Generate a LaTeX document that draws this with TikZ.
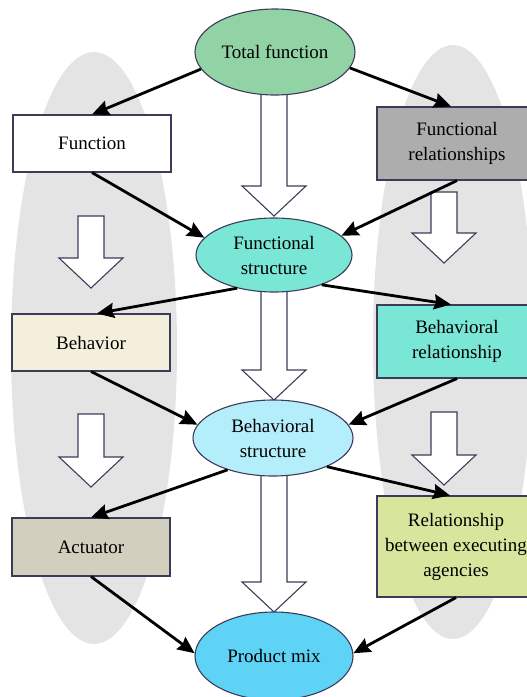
\documentclass[tikz,border=0pt]{standalone}
\usepackage{fontspec}
\setmainfont{Liberation Serif}
\usetikzlibrary{arrows.meta,shapes.geometric}

\definecolor{bggray}{RGB}{228,228,228}
\definecolor{edge}{RGB}{60,60,90}
\definecolor{totalgreen}{RGB}{146,211,165}
\definecolor{turq}{RGB}{121,230,214}
\definecolor{lightcyan}{RGB}{181,238,251}
\definecolor{skyblue}{RGB}{95,211,245}
\definecolor{midgray}{RGB}{173,173,173}
\definecolor{cream}{RGB}{244,239,221}
\definecolor{khaki}{RGB}{211,207,190}
\definecolor{lime}{RGB}{215,230,156}

% hollow block arrow: x, top y, tip y
\newcommand{\hollowarrow}[3]{%
  \draw[blockarrow] (#1-13,#2) -- (#1+13,#2) -- (#1+13,#3-30) -- (#1+32,#3-30)
    -- (#1,#3) -- (#1-32,#3-30) -- (#1-13,#3-30) -- cycle;}

\begin{document}
\begin{tikzpicture}[
                x=1pt, y=-1pt,
                font=\rmfamily\fontsize{19}{25}\selectfont,
                box/.style={draw=edge, line width=1.1pt, align=center, inner sep=2pt},
                oval/.style={ellipse, draw=edge, line width=1.1pt, align=center, inner sep=0pt},
                blockarrow/.style={draw=edge, fill=white, line width=1.1pt, line join=miter},
                conn/.style={-{Stealth[length=17pt, width=15pt, inset=2pt]}, line width=2.8pt, black}
            ]
            \clip (0,0) rectangle (527,697);

            % Background lanes
            \fill[bggray] (94,348) ellipse [x radius=83, y radius=296];
            \fill[bggray] (453,342) ellipse [x radius=80, y radius=297];

            % Hollow arrows, middle column
            \hollowarrow{274}{92}{216}
            \hollowarrow{274}{288}{400}
            \hollowarrow{274}{472}{612}

            % Hollow arrows, side columns
            \foreach \x/\a/\b in {91/216/288, 91/414/487, 444/192/263, 444/412/485}
                { \hollowarrow{\x}{\a}{\b} }

            % Middle column
            \node[oval, fill=totalgreen, minimum width=160pt, minimum height=86pt] (total) at (275,52) {Total function};
            \node[oval, fill=turq, minimum width=156pt, minimum height=74pt] (fstruct) at (274,255) {Functional\\structure};
            \node[oval, fill=lightcyan, minimum width=160pt, minimum height=76pt] (bstruct) at (273,438) {Behavioral\\structure};
            \node[oval, fill=skyblue, minimum width=158pt, minimum height=88pt] (prod) at (274,656) {Product mix};

            % Left column
            \node[box, fill=white, minimum width=158pt, minimum height=57pt] (func) at (92,143.5) {Function};
            \node[box, fill=cream, minimum width=158pt, minimum height=57pt] (behav) at (91,342.5) {Behavior};
            \node[box, fill=khaki, minimum width=158pt, minimum height=58pt] (act) at (91,547) {Actuator};

            % Right column
            \node[box, fill=midgray, minimum width=160pt, minimum height=73pt] (frel) at (457,143.5) {Functional\\relationships};
            \node[box, fill=turq, minimum width=160pt, minimum height=73pt] (brel) at (457,341.5) {Behavioral\\relationship};
            \node[box, fill=lime, minimum width=158pt, minimum height=101pt] (rel) at (456,546.5) {Relationship\\between executing\\agencies};

            % Connectors
            \draw[conn] (total.193) -- (func.north);
            \draw[conn] (total.348) -- ([xshift=-6pt]frel.north);
            \draw[conn] (func.south) -- (fstruct.166);
            \draw[conn] (frel.south) -- (fstruct.16);
            \draw[conn] (fstruct.222) -- ([xshift=6pt]behav.north);
            \draw[conn] (fstruct.328) -- ([xshift=-6pt]brel.north);
            \draw[conn] (behav.south) -- (bstruct.170);
            \draw[conn] (brel.south) -- (bstruct.10);
            \draw[conn] (bstruct.215) -- (act.north);
            \draw[conn] (bstruct.332) -- ([xshift=-6pt]rel.north);
            \draw[conn] (act.south) -- (prod.178);
            \draw[conn] (rel.south) -- (prod.2);
        \end{tikzpicture}
\end{document}
